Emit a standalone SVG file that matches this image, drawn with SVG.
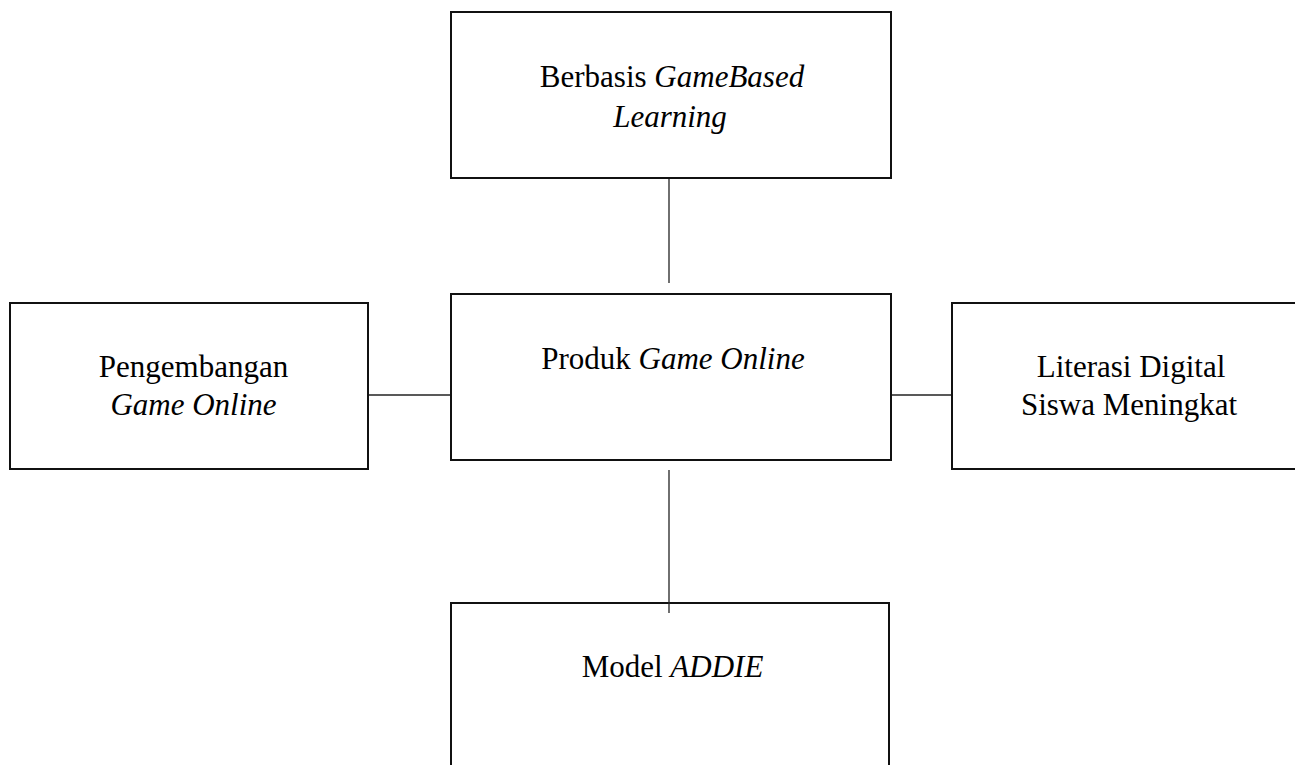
<svg xmlns="http://www.w3.org/2000/svg" width="1295" height="765" viewBox="0 0 1295 765">
<style>
.box{fill:#fff;stroke:#111;stroke-width:2}
.con{stroke:#222;stroke-width:1.3;fill:none}
text{font-family:"Liberation Serif","Times New Roman",serif;font-size:31px;fill:#000;text-anchor:middle}
.i{font-style:italic}
</style>
<rect width="1295" height="765" fill="#fff"/>
<g id="connectors">
<line class="con" x1="669" y1="178" x2="669" y2="283"/>
<line class="con" x1="368" y1="395" x2="451" y2="395"/>
<line class="con" x1="891" y1="395" x2="952" y2="395"/>
</g>
<g id="node-top">
<rect class="box" x="451" y="12" width="440" height="166"/>
<text x="672" y="87">Berbasis <tspan class="i">GameBased</tspan></text>
<text x="670" y="127" class="i">Learning</text>
</g>
<g id="node-center">
<rect class="box" x="451" y="294" width="440" height="166"/>
<text x="673" y="369">Produk <tspan class="i">Game Online</tspan></text>
</g>
<g id="node-left">
<rect class="box" x="10" y="303" width="358" height="166"/>
<text x="193.5" y="377">Pengembangan</text>
<text x="193.5" y="415" class="i">Game Online</text>
</g>
<g id="node-right">
<rect class="box" x="952" y="303" width="360" height="166"/>
<text x="1131" y="377">Literasi Digital</text>
<text x="1129" y="415">Siswa Meningkat</text>
</g>
<g id="node-bottom">
<rect class="box" x="451" y="603" width="438" height="180"/>
<text x="672.5" y="677">Model <tspan class="i">ADDIE</tspan></text>
</g>
<g id="connectors-bottom">
<line class="con" x1="669" y1="470" x2="669" y2="613"/>
</g>
</svg>
